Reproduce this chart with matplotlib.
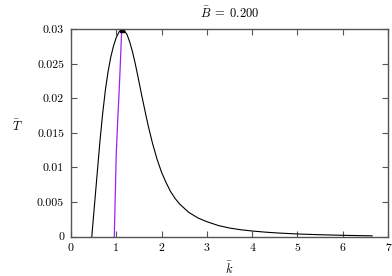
import numpy as np
import matplotlib
matplotlib.use("Agg")
import matplotlib.pyplot as plt

plt.rcParams['font.family'] = 'serif'
plt.rcParams['font.serif'] = ['cmr10']
plt.rcParams['mathtext.fontset'] = 'cm'
plt.rcParams['axes.unicode_minus'] = False

# black curve T(k)
k_curve = [0.46, 0.52, 0.58, 0.64, 0.70, 0.76, 0.82, 0.88, 0.94, 1.00, 1.06, 1.12,
           1.18, 1.24, 1.30, 1.36, 1.42, 1.48, 1.56, 1.64, 1.71, 1.80, 1.90, 2.00,
           2.10, 2.20, 2.30, 2.40, 2.60, 2.80, 3.00, 3.25, 3.50, 3.75, 4.00, 4.30,
           4.60, 5.00, 5.50, 6.00, 6.30, 6.65]
T_curve = [0.0, 0.0046, 0.0092, 0.0138, 0.0178, 0.0212, 0.0239, 0.0260, 0.0276, 0.0288, 0.0296, 0.0300,
           0.0298, 0.0292, 0.0281, 0.0267, 0.0250, 0.0231, 0.0205, 0.0180, 0.0159, 0.0135, 0.0112, 0.0093,
           0.0078, 0.0065, 0.0055, 0.0047, 0.0035, 0.0027, 0.00215, 0.0016, 0.00123, 0.00098, 0.0008, 0.00063,
           0.0005, 0.00037, 0.00026, 0.00018, 0.00014, 0.0001]

# magenta line
k_mag = [0.957, 1.0, 1.03, 1.067, 1.09, 1.12]
T_mag = [0.0, 0.012, 0.0165, 0.0215, 0.025, 0.0299]

# peak marker
k_peak = [1.12]
T_peak = [0.0299]

xticks = [0, 1, 2, 3, 4, 5, 6, 7]
yticks = [0, 0.005, 0.01, 0.015, 0.02, 0.025, 0.03]
ytick_labels = ['0', '0.005', '0.01', '0.015', '0.02', '0.025', '0.03']

fig = plt.figure(figsize=(3.92, 2.76), dpi=100)
ax = fig.add_axes([0.181, 0.143, 0.809, 0.751])

ax.plot(k_curve, T_curve, color='black', lw=0.8)
ax.plot(k_mag, T_mag, color='#a020f0', lw=0.9)
ax.plot(k_peak, T_peak, 's', color='black', ms=2.5)

ax.set_xlim(0, 7)
ax.set_ylim(0, 0.03)
ax.set_xticks(xticks)
ax.set_xticklabels([str(x) for x in xticks])
ax.set_yticks(yticks)
ax.set_yticklabels(ytick_labels)
ax.tick_params(direction='in', top=True, right=True, length=4, width=0.8,
               labelsize=8.5, colors='#555555', labelcolor='black', pad=5)
for s in ax.spines.values():
    s.set_color('#555555')
    s.set_linewidth(1.0)

ax.set_title(r'$\bar{B}\;=\;0.200$', fontsize=9, pad=9)
ax.set_xlabel(r'$\bar{k}$', fontsize=9, labelpad=5)
ax.set_ylabel(r'$\bar{T}$', fontsize=9, rotation=0, labelpad=0)
ax.yaxis.set_label_coords(-0.17, 0.5)

fig.savefig('out.png', dpi=100)
